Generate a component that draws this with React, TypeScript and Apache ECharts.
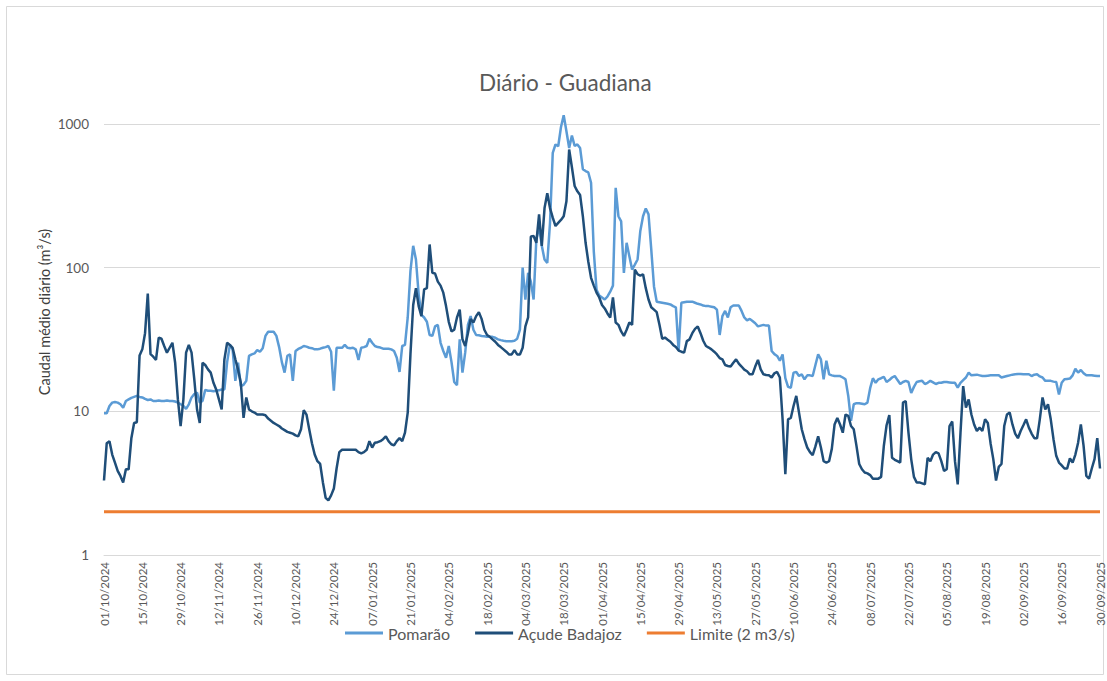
import React, { useEffect, useRef } from "react";
import * as echarts from "echarts";

const START_DATE = "2024-10-01";
const DAY_COUNT = 365;
const Y_TICKS = [1, 10, 100, 1000];
const LIMIT_VALUE = 2;

const pomarao: number[] = [
  9.7, 9.7, 10.9, 11.5, 11.6, 11.5, 11.2, 10.6, 11.8, 12.1, 12.4, 12.6, 12.8, 12.6,
  12.5, 12.2, 12.0, 12.1, 11.8, 11.8, 11.9, 11.8, 11.8, 11.9, 11.8, 11.8, 11.7, 11.5,
  11.2, 10.9, 10.4, 11.2, 12.5, 13.2, 13.5, 11.5, 11.8, 14.1, 13.9, 13.9, 13.8, 13.9,
  14.0, 14.2, 14.2, 22, 29, 27, 16.3, 21.8, 15, 15.3, 16.3, 24.3, 24.9, 25.3,
  26.7, 26.0, 27.5, 33.5, 35.8, 35.8, 35.8, 33.5, 28, 22, 18.6, 24.3, 24.9, 16.3,
  26.3, 27.2, 27.7, 28.5, 28.2, 27.7, 27.5, 27.0, 27.0, 27.3, 27.7, 28.0, 28.5, 26,
  13.9, 27.7, 27.7, 27.7, 29, 27.7, 27.5, 27.7, 27, 22.8, 27.7, 28, 28.5, 32,
  30, 28.5, 28, 27.8, 27.3, 27.3, 27.3, 27, 26.3, 23.6, 18.8, 28.5, 29, 45,
  95, 142, 114, 65, 47, 45, 42, 34, 33.5, 39, 40, 30, 26.3, 23.6,
  28.5, 22, 16, 15.2, 31.7, 18.6, 25.6, 40, 46, 37, 34, 33.8, 33.5, 33.3,
  33, 33, 33, 32.5, 31.7, 31.3, 31, 30.8, 30.8, 30.8, 31, 32, 37, 100,
  60, 92, 80, 60, 157, 195, 142, 114, 108, 205, 630, 720, 700, 950,
  1150, 890, 680, 830, 705, 720, 680, 485, 470, 460, 390, 130, 70, 64,
  62, 60, 63, 68, 75, 360, 228, 210, 92, 149, 120, 97, 105, 114,
  180, 228, 258, 235, 134, 74, 58, 57.5, 57, 56.5, 56, 55.5, 54, 53,
  26.3, 57, 57.5, 58, 58, 58, 57, 56, 55.5, 54.5, 54, 54, 53.5, 53,
  51, 34, 46, 50, 45, 53, 54.5, 54.5, 54.5, 50, 45, 43, 44, 42.5,
  41, 39, 39.5, 40, 39.5, 39.5, 26.3, 25, 24.3, 22.5, 24.9, 17, 14.8, 14.6,
  18.6, 18.8, 17.6, 18.1, 16.7, 17.8, 17.8, 17.6, 21, 24.9, 23, 16.7, 22.5, 18.1,
  17.8, 17.6, 17.6, 17.6, 17.2, 16.7, 12.8, 8.6, 11.2, 11.4, 11.4, 11.3, 11.2, 11.5,
  14.5, 17, 15.8, 16.7, 17, 17.4, 16, 16.5, 17.2, 17.6, 16.5, 15.5, 16, 16.3,
  16, 13.4, 14.8, 16, 16.2, 16.3, 15.5, 15.8, 16.3, 15.9, 15.5, 15.8, 15.8, 16,
  16, 15.9, 15.8, 15.8, 14.6, 15.8, 16.5, 17.2, 18.6, 17.8, 17.9, 18, 17.8, 17.6,
  17.6, 17.7, 17.8, 17.8, 17.8, 17.8, 17.2, 17.4, 17.6, 17.8, 18, 18.1, 18.2, 18.2,
  18.1, 18.1, 18.1, 17.6, 18, 18.1, 17.5, 17.2, 16.3, 16.3, 16.3, 16.1, 16, 13.1,
  15.8, 16.7, 16.8, 16.9, 17.8, 19.8, 18.6, 19.4, 18.4, 17.8, 17.8, 17.8, 17.7, 17.6, 17.6,
];

const acudeBadajoz: number[] = [
  3.3, 6.0, 6.2, 5.0, 4.4, 3.85, 3.55, 3.2, 3.95, 3.95, 6.5, 8.3, 8.4, 24.5,
  27, 35, 66, 25, 24, 22.8, 32.6, 32, 28.5, 25.6, 27.7, 30, 21.8, 12.1,
  7.9, 12, 25.6, 29, 25.6, 16.7, 10.3, 8.3, 21.8, 21, 19.6, 18.6, 15.8, 14.2,
  12.1, 10.3, 23, 30, 29, 27.7, 23, 19.5, 15.8, 9, 12.5, 10.3, 10, 9.8,
  9.5, 9.5, 9.5, 9.4, 8.9, 8.6, 8.3, 8.1, 7.9, 7.6, 7.4, 7.2, 7.1, 7.0,
  6.8, 6.7, 7.5, 10.2, 9.5, 7.5, 6.0, 5.0, 4.5, 4.3, 3.2, 2.5, 2.4, 2.6,
  2.9, 4.0, 5.2, 5.4, 5.4, 5.4, 5.4, 5.4, 5.4, 5.2, 5.1, 5.2, 5.4, 6.2,
  5.6, 6.05, 6.1, 6.2, 6.4, 6.7, 6.2, 5.9, 5.8, 6.2, 6.5, 6.2, 7.1, 9.8,
  25, 55, 72, 54, 46, 70.5, 72, 145, 92, 91, 80, 75, 67, 54,
  42, 36, 37, 45, 51, 31.7, 28.5, 35, 44, 41.5, 46, 49, 44, 37,
  34, 33, 31.7, 30.5, 29, 28, 27, 26, 24.9, 24.9, 26.7, 24.9, 24.9, 27.7,
  39, 45, 165, 166, 149, 235, 142, 260, 330, 260, 223, 195, 205, 215,
  228, 290, 665, 500, 370, 340, 320, 228, 149, 110, 85, 75, 67, 62,
  55, 52, 48, 45, 62, 41.5, 40, 36, 33.5, 37, 41.5, 40, 97, 90,
  88, 90, 72, 60, 53, 51, 49, 40, 32, 32.6, 31.5, 30.5, 29, 28,
  26.5, 26, 25.6, 30.8, 31.7, 35, 37.5, 39, 35, 31, 28.5, 27.8, 27, 26,
  24.9, 23.5, 23, 21, 20.7, 20.5, 21.8, 23, 21.5, 20.5, 19.5, 19, 18.1, 18.1,
  20.5, 22.8, 19.6, 18.1, 17.9, 17.8, 17.2, 18.4, 18.8, 17.2, 8.8, 3.65, 8.8, 9,
  10.9, 12.8, 9.8, 7.5, 6.4, 5.6, 5.2, 4.95, 5.7, 6.7, 5.6, 4.5, 4.4, 4.5,
  5.5, 8.1, 9, 8.1, 7.1, 9.5, 9.3, 7.9, 7.5, 5.75, 4.3, 3.95, 3.75, 3.7,
  3.6, 3.4, 3.4, 3.4, 3.5, 5.75, 8, 9.4, 4.75, 4.6, 4.5, 4.4, 11.5, 11.8,
  7.1, 4.65, 3.5, 3.2, 3.2, 3.15, 3.1, 4.75, 4.5, 5.0, 5.2, 5.1, 4.5, 3.85,
  3.95, 7.9, 8.5, 4.5, 3.1, 7, 15, 10.6, 12.1, 9.5, 8.1, 7.3, 7.7, 7.3,
  8.8, 8.3, 6, 4.65, 3.3, 4.1, 4.3, 7.9, 9.5, 9.8, 8.1, 7.0, 6.5, 7.3,
  8, 8.8, 7.7, 7, 6.5, 6.5, 8.8, 12.5, 10.3, 11.2, 8.8, 6.4, 4.9, 4.4,
  4.2, 4.0, 4.0, 4.7, 4.4, 5, 6.05, 8.1, 5.75, 3.55, 3.4, 4.0, 4.65, 6.5, 4.0,
];

const SERIES_NAMES = ["Pomarão", "Açude Badajoz", "Limite (2 m3/s)"];
const Y_AXIS_TITLE = "Caudal médio diário (m³/s)";
const CHART_TITLE = "Diário - Guadiana";

function buildDates(): string[] {
  const out: string[] = [];
  const [y, m, d] = START_DATE.split("-").map(Number);
  for (let i = 0; i < DAY_COUNT; i++) {
    const dt = new Date(Date.UTC(y, m - 1, d + i));
    const dd = String(dt.getUTCDate()).padStart(2, "0");
    const mm = String(dt.getUTCMonth() + 1).padStart(2, "0");
    out.push(`${dd}/${mm}/${dt.getUTCFullYear()}`);
  }
  return out;
}

export default function App() {
  const ref = useRef<HTMLDivElement>(null);

  useEffect(() => {
    if (!ref.current) return;
    const chart = echarts.init(ref.current, undefined, { renderer: "svg" });
    const dates = buildDates();
    const limite = dates.map(() => LIMIT_VALUE);
    const font = "Lato, 'Liberation Sans', sans-serif";
    const textColor = "#595959";

    chart.setOption({
      animation: false,
      backgroundColor: "#ffffff",
      textStyle: { fontFamily: font },
      title: {
        text: CHART_TITLE,
        left: 474,
        top: 66,
        textStyle: { fontFamily: font, fontSize: 22.5, fontWeight: "normal", color: textColor },
      },
      graphic: [
        {
          type: "rect",
          shape: { x: 6.5, y: 6.5, width: 1097, height: 668 },
          style: { fill: "none", stroke: "#d9d9d9", lineWidth: 1 },
          silent: true,
        },
        {
          type: "text",
          x: 44,
          y: 312,
          rotation: Math.PI / 2,
          style: {
            text: Y_AXIS_TITLE,
            fontFamily: font,
            fontSize: 14.5,
            fill: "#404040",
            align: "center",
            verticalAlign: "middle",
          },
          silent: true,
        },
      ],
      legend: {
        top: 620,
        left: 340,
        icon: "rect",
        itemWidth: 38,
        itemHeight: 3,
        itemGap: 25,
        textStyle: { fontFamily: font, fontSize: 16, color: textColor },
        data: SERIES_NAMES,
      },
      grid: { left: 104, right: 7, top: 124, bottom: 126, containLabel: false },
      xAxis: {
        type: "category",
        data: dates,
        boundaryGap: false,
        axisLine: { show: true, lineStyle: { color: "#d9d9d9", width: 1 } },
        axisTick: { show: false },
        axisLabel: {
          interval: 13,
          rotate: 90,
          color: textColor,
          fontSize: 11.5,
          fontFamily: font,
          margin: 7,
        },
        splitLine: { show: false },
      },
      yAxis: {
        type: "log",
        logBase: 10,
        min: Y_TICKS[0],
        max: Y_TICKS[Y_TICKS.length - 1],
        axisLine: { show: false },
        axisTick: { show: false },
        axisLabel: {
          color: textColor,
          fontSize: 13.5,
          fontFamily: font,
          margin: 15,
          formatter: (v: number) => String(Math.round(v)),
        },
        splitLine: { show: true, lineStyle: { color: "#d9d9d9", width: 1 } },
      },
      series: [
        {
          name: SERIES_NAMES[0],
          type: "line",
          data: pomarao,
          symbol: "none",
          clip: false,
          lineStyle: { color: "#5B9BD5", width: 2.5 },
          itemStyle: { color: "#5B9BD5" },
          z: 2,
        },
        {
          name: SERIES_NAMES[1],
          type: "line",
          data: acudeBadajoz,
          symbol: "none",
          clip: false,
          lineStyle: { color: "#1F4E79", width: 2.5 },
          itemStyle: { color: "#1F4E79" },
          z: 3,
        },
        {
          name: SERIES_NAMES[2],
          type: "line",
          data: limite,
          symbol: "none",
          lineStyle: { color: "#ED7D31", width: 3 },
          itemStyle: { color: "#ED7D31" },
          z: 4,
        },
      ],
    });

    return () => chart.dispose();
  }, []);

  return (
    <div
      ref={ref}
      style={{ position: "fixed", left: 0, top: 0, width: 1107, height: 681 }}
    />
  );
}
